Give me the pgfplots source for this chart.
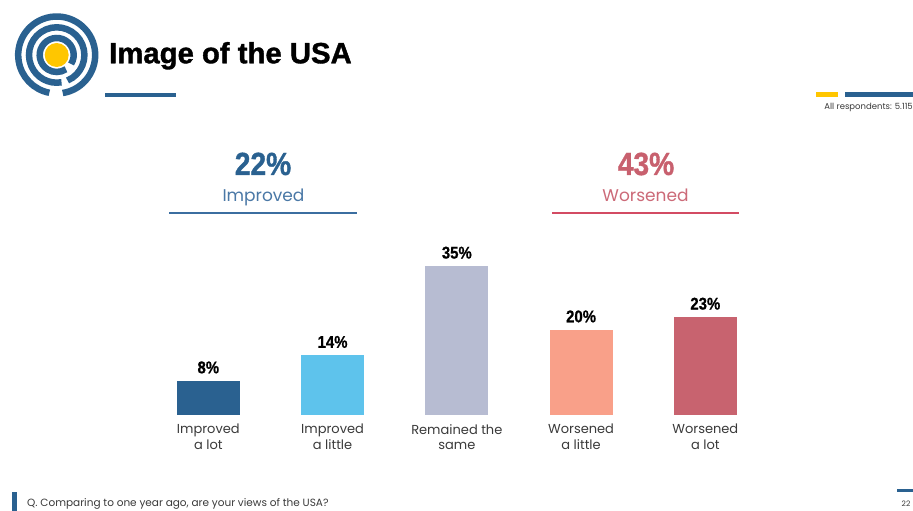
\documentclass[border=0pt]{standalone}
\usepackage{pgfplots}
\pgfplotsset{compat=1.18}
\usepackage{fontspec}
\setmainfont{Poppins}
\newfontfamily\titlefont{Liberation Sans Bold}[FakeBold=1.2]
\newfontfamily\numfont{Liberation Sans Bold}[FakeBold=0.8]
\definecolor{dblue}{HTML}{2A6190}
\definecolor{lblue}{HTML}{5EC3EC}
\definecolor{lgray}{HTML}{B7BCD2}
\definecolor{salmon}{HTML}{F9A089}
\definecolor{rose}{HTML}{C8636F}
\definecolor{logoyellow}{HTML}{FFC600}
\definecolor{impblue}{HTML}{4A78A6}
\definecolor{impline}{HTML}{3B6EA0}
\definecolor{wortext}{HTML}{CC6A78}
\definecolor{worline}{HTML}{D34B63}
\definecolor{fortythree}{HTML}{C8606E}
\definecolor{labgray}{HTML}{3A3A3A}
\begin{document}
\begin{tikzpicture}[x=1pt,y=1pt]
\useasboundingbox (0,0) rectangle (913,511);
\fill[white] (0,0) rectangle (913,511);
% logo
\begin{scope}[shift={(56.7,456)}, line width=6.5pt]
\draw[dblue] (-81:38.5) arc[start angle=-81, end angle=259, radius=38.5];
\draw[dblue] (-67:27.7) arc[start angle=-67, end angle=280, radius=27.7];
\draw[dblue] (-32:17) arc[start angle=-32, end angle=303, radius=17];
\fill[logoyellow] (0,0) circle (12);
\end{scope}
% title
\node[anchor=base west, inner sep=0pt, font=\titlefont\fontsize{29.3}{32}\selectfont] at (109,447.7) {Image of the USA};
\fill[dblue] (105,413.7) rectangle (176,418.3);
% top right
\fill[logoyellow] (816,413.7) rectangle (838,418.5);
\fill[dblue] (845,413.7) rectangle (913,418.5);
\node[anchor=base east, inner sep=0pt, text=labgray, font=\fontsize{8.5}{10}\selectfont] at (913,401) {All respondents: 5.115};
% headers
\node[anchor=base, inner sep=0pt, text=dblue, font=\titlefont\fontsize{32}{36}\selectfont] at (263,336) {\scalebox{0.88}[1]{22\%}};
\node[anchor=base, inner sep=0pt, text=impblue, font=\fontsize{17}{20}\selectfont] at (263.5,309) {Improved};
\draw[impline, line width=1.5pt] (169,298) -- (357,298);
\node[anchor=base, inner sep=0pt, text=fortythree, font=\titlefont\fontsize{32}{36}\selectfont] at (646,336) {\scalebox{0.88}[1]{43\%}};
\node[anchor=base, inner sep=0pt, text=wortext, font=\fontsize{17}{20}\selectfont] at (645.5,309) {Worsened};
\draw[worline, line width=1.5pt] (552,298) -- (739,298);
% footer
\fill[dblue] (12,0) rectangle (17,19);
\node[anchor=base west, inner sep=0pt, text=labgray, font=\fontsize{10.5}{12}\selectfont] at (27,4) {Q. Comparing to one year ago, are your views of the USA?};
\fill[dblue] (897,19) rectangle (913,22);
\node[anchor=base, inner sep=0pt, text=labgray, font=\fontsize{7.5}{8}\selectfont] at (906,4.5) {22};
% chart
\begin{axis}[
  at={(146.2pt,96pt)}, anchor=south west, scale only axis,
  width=621.25pt, height=170pt,
  xmin=-0.5, xmax=4.5, ymin=0, ymax=40,
  axis line style={draw=none},
  ytick=\empty,
  xtick={0,1,2,3,4},
  xticklabels={{Improved\\a lot},{Improved\\a little},{Remained the\\same},{Worsened\\a little},{Worsened\\a lot}},
  major tick length=0pt,
  xticklabel style={align=center, font=\fontsize{13}{15.5}\selectfont, text=labgray, inner sep=0pt, anchor=north, yshift=-9pt},
  clip=false,
  ybar, bar width=63pt,
  every axis plot/.append style={bar shift=0pt, draw=none},
  /pgf/number format/assume math mode=true,
  nodes near coords={\scalebox{0.88}[1]{\pgfmathprintnumber{\pgfplotspointmeta}\%}},
  nodes near coords style={font=\numfont\fontsize{17}{20}\selectfont, text=black, anchor=base, inner sep=0pt, yshift=7.7pt},
]
\addplot[fill=dblue] coordinates {(0,8)};
\addplot[fill=lblue] coordinates {(1,14)};
\addplot[fill=lgray] coordinates {(2,35)};
\addplot[fill=salmon] coordinates {(3,20)};
\addplot[fill=rose] coordinates {(4,23)};
\end{axis}
\end{tikzpicture}
\end{document}
